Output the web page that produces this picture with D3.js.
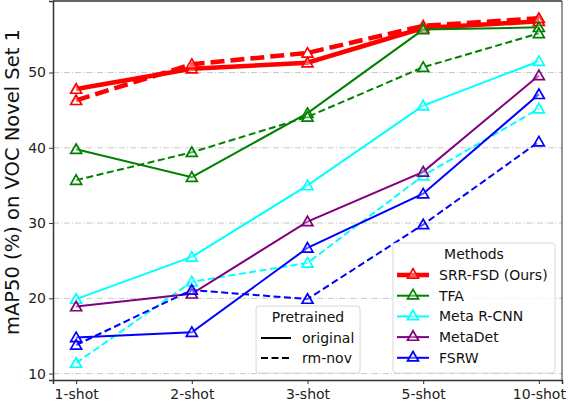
<!DOCTYPE html>
<html>
<head>
<meta charset="utf-8">
<script src="https://cdn.jsdelivr.net/npm/d3@7"></script>
<style>
  body { margin: 0; background: #fff; }
  svg { font-family: "DejaVu Sans", sans-serif; }
</style>
</head>
<body>
<div id="chart"></div>
<script>
// Shots on the x axis
const shots = ["1-shot", "2-shot", "3-shot", "5-shot", "10-shot"];
const yTicks = [10, 20, 30, 40, 50];

// mAP50 values
const srrOriginal = [47.8, 50.5, 51.3, 55.9, 56.8];
const srrRmNov = [46.3, 51.1, 52.6, 56.2, 57.2];
const tfaOriginal = [39.8, 36.1, 44.6, 55.7, 56.0];
const tfaRmNov = [35.7, 39.4, 44.1, 50.7, 55.2];
const metaRcnnOriginal = [19.9, 25.5, 35.0, 45.6, 51.5];
const metaRcnnRmNov = [11.4, 22.2, 24.7, 36.3, 45.2];
const metaDetOriginal = [18.9, 20.6, 30.2, 36.8, 49.6];
const fsrwOriginal = [14.8, 15.5, 26.7, 33.9, 47.1];
const fsrwRmNov = [13.8, 21.1, 19.9, 29.8, 40.8];

const methods = ["SRR-FSD (Ours)", "TFA", "Meta R-CNN", "MetaDet", "FSRW"];
const colors = ["#ff0000", "#008000", "#00ffff", "#800080", "#0000ff"];

const series = [
  { method: 0, dashed: false, values: srrOriginal },
  { method: 0, dashed: true, values: srrRmNov },
  { method: 1, dashed: false, values: tfaOriginal },
  { method: 1, dashed: true, values: tfaRmNov },
  { method: 2, dashed: false, values: metaRcnnOriginal },
  { method: 2, dashed: true, values: metaRcnnRmNov },
  { method: 3, dashed: false, values: metaDetOriginal },
  { method: 4, dashed: false, values: fsrwOriginal },
  { method: 4, dashed: true, values: fsrwRmNov }
];

const W = 568, H = 402;
const margin = { left: 53, right: 6, top: 1, bottom: 22 };
const innerW = W - margin.left - margin.right;
const innerH = H - margin.top - margin.bottom;

const svg = d3.select("#chart").append("svg")
  .attr("width", W).attr("height", H);

const g = svg.append("g")
  .attr("transform", `translate(${margin.left},${margin.top})`);

const x = d3.scaleLinear().domain([-0.2, 4.2]).range([0, innerW]);
const y = d3.scaleLinear().domain([9.15, 59.5]).range([innerH, 0]);

// Horizontal grid
g.selectAll(".grid").data(yTicks).enter().append("line")
  .attr("x1", 0).attr("x2", innerW)
  .attr("y1", d => y(d)).attr("y2", d => y(d))
  .attr("stroke", "#c8c8c8").attr("stroke-width", 1)
  .attr("stroke-dasharray", "6,2,1,2");

// Axes
const xAxis = g.append("g")
  .attr("transform", `translate(0,${innerH})`)
  .call(d3.axisBottom(x).tickValues(d3.range(shots.length))
    .tickFormat(i => shots[i]).tickSizeOuter(0).tickSize(4));
const yAxis = g.append("g")
  .call(d3.axisLeft(y).tickValues(yTicks).tickSizeOuter(0).tickSize(4));

[xAxis, yAxis].forEach(a => {
  a.selectAll("text").attr("font-size", 14).attr("fill", "#222")
    .attr("font-family", "DejaVu Sans, sans-serif");
  a.selectAll("line").attr("stroke", "#333");
  a.select(".domain").attr("stroke", "#333").attr("stroke-width", 1.5);
});
xAxis.selectAll("text").attr("dy", "0.84em");

// Top and right frame
g.append("line").attr("x1", 0).attr("x2", innerW).attr("y1", 0).attr("y2", 0)
  .attr("stroke", "#333").attr("stroke-width", 1.5);
g.append("line").attr("x1", innerW).attr("x2", innerW).attr("y1", 0).attr("y2", innerH)
  .attr("stroke", "#333").attr("stroke-width", 1);

// Y label
svg.append("text")
  .attr("transform", "translate(13,182) rotate(-90)")
  .attr("text-anchor", "middle").attr("dominant-baseline", "middle")
  .attr("font-size", 19.5).attr("fill", "#111")
  .text("mAP50 (%) on VOC Novel Set 1");

const tri = d3.symbol().type(d3.symbolTriangle).size(52);

function widthOf(m) { return m === 0 ? 4.5 : 2; }
function dashOf(m, dashed) {
  if (!dashed) return null;
  return m === 0 ? "14,6" : "7,3.5";
}

const line = d3.line().x((d, i) => x(i)).y(d => y(d));

series.forEach(s => {
  const c = colors[s.method];
  g.append("path").datum(s.values)
    .attr("d", line)
    .attr("fill", "none").attr("stroke", c)
    .attr("stroke-width", widthOf(s.method))
    .attr("stroke-dasharray", dashOf(s.method, s.dashed));
  g.selectAll(null).data(s.values).enter().append("path")
    .attr("d", tri)
    .attr("transform", (d, i) => `translate(${x(i)},${y(d) + 1})`)
    .attr("fill", "rgba(255,255,255,0.35)").attr("stroke", c).attr("stroke-width", 1.7);
});

// Legend: Pretrained
const lp = svg.append("g").attr("transform", "translate(256,306)");
lp.append("rect").attr("width", 104).attr("height", 67).attr("rx", 3)
  .attr("fill", "rgba(255,255,255,0.8)").attr("stroke", "#d8d8d8");
lp.append("text").attr("x", 52).attr("y", 16).attr("text-anchor", "middle")
  .attr("font-size", 14).attr("fill", "#111").text("Pretrained");
["original", "rm-nov"].forEach((t, i) => {
  const yy = 32 + i * 20;
  lp.append("line").attr("x1", 5).attr("x2", 35).attr("y1", yy).attr("y2", yy)
    .attr("stroke", "#000").attr("stroke-width", 2)
    .attr("stroke-dasharray", i === 1 ? "7,3.5" : null);
  lp.append("text").attr("x", 46).attr("y", yy + 5).attr("font-size", 14)
    .attr("fill", "#111").text(t);
});

// Legend: Methods
const lm = svg.append("g").attr("transform", "translate(393,243)");
lm.append("rect").attr("width", 162).attr("height", 130).attr("rx", 3)
  .attr("fill", "rgba(255,255,255,0.8)").attr("stroke", "#d8d8d8");
lm.append("text").attr("x", 81).attr("y", 16).attr("text-anchor", "middle")
  .attr("font-size", 14).attr("fill", "#111").text("Methods");
methods.forEach((t, i) => {
  const yy = 32 + i * 20.7;
  lm.append("line").attr("x1", 4).attr("x2", 36).attr("y1", yy).attr("y2", yy)
    .attr("stroke", colors[i]).attr("stroke-width", widthOf(i));
  lm.append("path").attr("d", tri)
    .attr("transform", `translate(20,${yy})`)
    .attr("fill", "rgba(255,255,255,0.35)").attr("stroke", colors[i]).attr("stroke-width", 1.7);
  lm.append("text").attr("x", 46).attr("y", yy + 5).attr("font-size", 14)
    .attr("fill", "#111").text(t);
});
</script>
</body>
</html>
